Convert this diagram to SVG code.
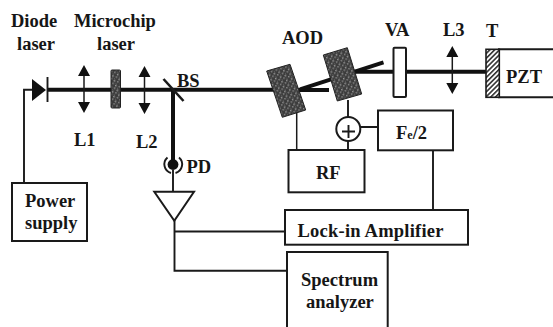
<svg xmlns="http://www.w3.org/2000/svg" width="553" height="327" viewBox="0 0 553 327">
<style>
text{font-family:"Liberation Serif","Times New Roman",serif;font-weight:bold;font-size:18.5px;fill:#161616}
.b{fill:#fff;stroke:#1a1a1a;stroke-width:2}
.w{fill:none;stroke:#1a1a1a;stroke-width:1.9}
.t{fill:none;stroke:#111;stroke-width:4}
.l{fill:none;stroke:#1a1a1a;stroke-width:1.5}
.h{fill:#111}
.d{fill:url(#speck);stroke:#222;stroke-width:1}
</style>
<defs>
<pattern id="speck" width="5" height="5" patternUnits="userSpaceOnUse" patternTransform="rotate(-17)">
<rect width="5" height="5" fill="#3c3c3c"/><rect x="0" y="0" width="1.5" height="1.5" fill="#999"/><rect x="3" y="2" width="1.5" height="1.5" fill="#8a8a8a"/><rect x="1" y="3.5" width="1" height="1" fill="#777"/>
</pattern>
<pattern id="hatch" width="3.4" height="3.4" patternUnits="userSpaceOnUse" patternTransform="rotate(45)">
<rect width="3.4" height="3.4" fill="#fff"/><rect width="1.6" height="3.4" fill="#333"/>
</pattern>
<g id="lens"><path class="l" d="M0 8V40"/><path class="h" d="M0 0L6 11H-6ZM0 48L6 37H-6Z"/></g>
</defs>

<g id="connectors">
<path class="t" d="M47 89.7H278"/>
<path class="t" d="M173 90V161"/>
<path class="t" d="M298 90H329"/>
<path class="t" d="M300 89.3L383.5 62.3"/>
<path class="t" d="M352 71.7H486"/>
<path class="w" d="M32 89.7H24V183"/>
<path class="w" d="M173 170V192"/>
<path class="l" d="M296.7 112V150"/>
<path class="w" d="M348 100V117M348 141V150M360 127H378"/>
<path class="w" d="M433 150V210"/>
<path class="w" d="M174.5 220V270.7H287M174.5 231.5H285"/>
</g>

<g id="diode"><path class="h" d="M32 79L46 90L32 101Z"/><path class="w" d="M47.5 77V102"/></g>
<g id="l1"><use href="#lens" x="84" y="65"/></g>
<g id="chip"><rect x="111" y="70" width="9.5" height="38" rx="1" class="d"/></g>
<g id="l2"><use href="#lens" x="144.5" y="66"/></g>
<g id="bs"><path d="M163.5 79L183.5 101" fill="none" stroke="#1a1a1a" stroke-width="2.6"/></g>
<g id="pd"><circle cx="173" cy="164.5" r="5.4" class="h"/><path class="w" d="M167.5 157.5A9 9 0 0 0 171 173M179 157.5A9 9 0 0 1 175.5 173"/></g>
<g id="amp"><path class="b" d="M154.3 191.7H194L174.3 220.7Z"/></g>
<g id="aod1"><path class="d" d="M266.7 71L290 64.3L305.7 110L282.3 117.3Z"/></g>
<g id="aod2"><path class="d" d="M323.3 55L347.3 47.7L361.7 94L337.3 101Z"/></g>
<g id="va"><rect class="b" x="393.5" y="47.7" width="12.5" height="49.3" rx="1"/></g>
<g id="l3"><use href="#lens" x="452.3" y="46"/></g>
<g id="pzt"><path class="b" d="M499 49.3H555V97.3H499Z"/><rect x="486" y="49.3" width="13.3" height="48" fill="url(#hatch)" stroke="#1a1a1a" stroke-width="1.6"/><text x="506" y="83">PZT</text></g>
<g id="sum"><circle class="b" cx="348.3" cy="129" r="12"/><path class="w" d="M342 131.5H355M348.5 125V138"/></g>
<g id="rf"><rect class="b" x="288.5" y="150" width="76" height="42.3"/><text x="316" y="179">RF</text></g>
<g id="fe"><rect class="b" x="378" y="110.5" width="75" height="39.8"/><text x="396" y="139">F<tspan font-size="12">e</tspan>/2</text></g>
<g id="lockin"><rect class="b" x="285" y="210" width="183" height="34.7"/><text x="297.5" y="237" textLength="146">Lock-in Amplifier</text></g>
<g id="spectrum"><rect class="b" x="287" y="252" width="100.7" height="80"/><text x="301" y="286">Spectrum</text><text x="306" y="308">analyzer</text></g>
<g id="power"><rect class="b" x="12" y="183" width="75" height="58"/><text x="25" y="207">Power</text><text x="25" y="229">supply</text></g>

<g id="labels">
<text x="11" y="27">Diode</text><text x="17" y="50">laser</text>
<text x="74" y="27">Microchip</text><text x="97" y="50">laser</text>
<text x="74" y="146">L1</text><text x="136" y="148">L2</text>
<text x="177" y="87">BS</text><text x="186.5" y="173">PD</text>
<text x="282" y="44">AOD</text><text x="385" y="36">VA</text><text x="443" y="36">L3</text><text x="486" y="37">T</text>
</g>
</svg>
